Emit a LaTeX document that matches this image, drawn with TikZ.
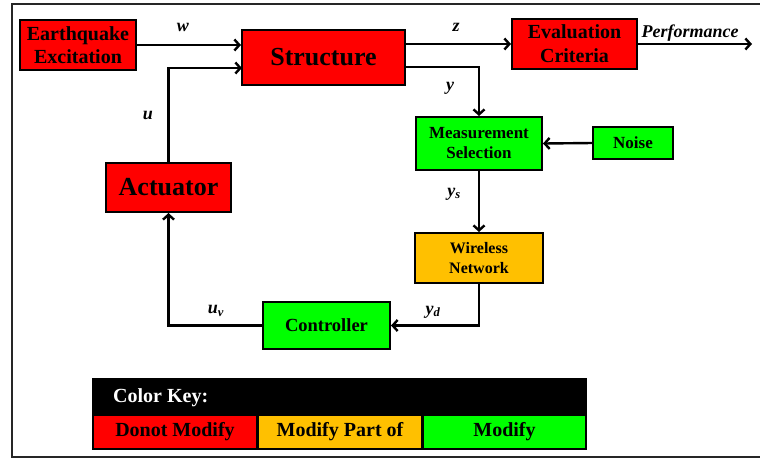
\documentclass[tikz,border=0pt]{standalone}
\usepackage{fontspec}
\setmainfont{Liberation Serif}
\usetikzlibrary{arrows.meta}
\definecolor{kred}{HTML}{FF0000}
\definecolor{kgreen}{HTML}{00FF00}
\definecolor{korange}{HTML}{FFC000}
\tikzset{
  blk/.style={draw=black, line width=2pt, inner sep=0pt, align=center, font=\bfseries},
  arr/.style={line width=2.4pt, -{Straight Barb[length=5pt,width=11pt,line width=2.4pt]}},
  lbl/.style={font=\fontsize{18}{20}\selectfont\bfseries\itshape, inner sep=0pt},
  keycell/.style={inner sep=0pt, font=\fontsize{20}{22}\selectfont\bfseries}
}
\begin{document}
\begin{tikzpicture}[x=1pt,y=-1pt]
\useasboundingbox (0,0) rectangle (760,459);
\fill[white] (0,0) rectangle (760,459);
\draw[line width=1.8pt, black!85] (12,4) rectangle (775,457);

% blocks
\node[blk, fill=kred, minimum width=116pt, minimum height=50pt, font=\fontsize{20}{23}\selectfont\bfseries] (eq) at (78,45) {Earthquake\\Excitation};
\node[blk, fill=kred, minimum width=163pt, minimum height=55pt, font=\fontsize{26}{28}\selectfont\bfseries] (st) at (323.5,57.5) {Structure};
\node[blk, fill=kred, minimum width=125pt, minimum height=50pt, font=\fontsize{20}{24}\selectfont\bfseries] (ev) at (574.5,44) {Evaluation\\Criteria};
\node[blk, fill=kgreen, minimum width=126pt, minimum height=53pt, font=\fontsize{17}{20}\selectfont\bfseries] (ms) at (479,143.5) {Measurement\\Selection};
\node[blk, fill=kgreen, minimum width=80pt, minimum height=32pt, font=\fontsize{17}{20}\selectfont\bfseries] (no) at (633,143) {Noise};
\node[blk, fill=korange, minimum width=128pt, minimum height=50pt, font=\fontsize{16}{20}\selectfont\bfseries] (wn) at (479,258) {Wireless\\Network};
\node[blk, fill=kgreen, minimum width=127pt, minimum height=47pt, font=\fontsize{18.5}{20}\selectfont\bfseries] (ct) at (326.5,325.5) {Controller};
\node[blk, fill=kred, minimum width=125pt, minimum height=49pt, font=\fontsize{26}{28}\selectfont\bfseries] (ac) at (168.5,187.5) {Actuator};

% helper coordinates
\coordinate (uin) at (242,68);
\coordinate (yout) at (405,67);
\coordinate (perf) at (752,44);

% connectors
\draw[arr] (eq.east) -- (st.west |- eq.east);
\draw[arr] (st.east |- ev.west) -- (ev.west);
\draw[arr] (ev.east) -- (perf);
\draw[arr] (ac.north) |- (uin);
\draw[arr] (yout) -| (ms.north);
\draw[arr] (no.west) -- (ms.east);
\draw[arr] (ms.south) -- (wn.north);
\draw[arr] (wn.south) |- (ct.east);
\draw[arr] (ct.west) -| (ac.south);

% labels
\node[lbl] (lw) at (183,27) {w};
\node[lbl] (lz) at (456,27) {z};
\node[lbl] (lp) at (690,33) {Performance};
\node[lbl] (ly) at (450,88) {y};
\node[lbl] (lu) at (148,115) {u};
\node[lbl] (lys) at (454,194) {y\textsubscript{s}};
\node[lbl] (lyd) at (433,312) {y\textsubscript{d}};
\node[lbl] (luv) at (216,311) {u\textsubscript{v}};

% colour key
\fill[black] (92,378) rectangle (587,450);
\node[keycell, text=white, anchor=west] (ck) at (113,398) {Color Key:};
\fill[kred] (94,416) rectangle (256,448);
\fill[korange] (259,416) rectangle (421,448);
\fill[kgreen] (424,416) rectangle (585,448);
\node[keycell] (k1) at (175,432) {Donot Modify};
\node[keycell] (k2) at (340,432) {Modify Part of};
\node[keycell] (k3) at (504.5,432) {Modify};
\end{tikzpicture}
\end{document}
